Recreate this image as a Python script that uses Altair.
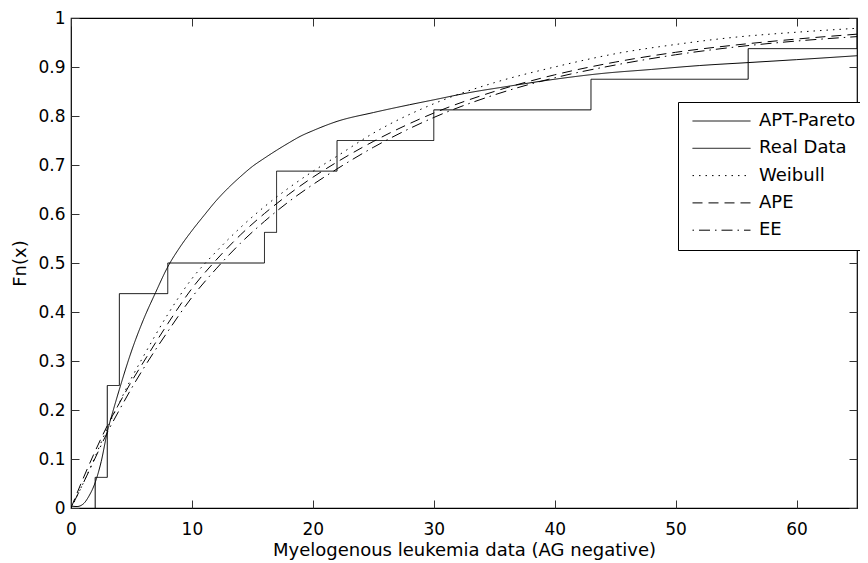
import altair as alt
import pandas as pd

# ---- data ----
series_order = ["APT-Pareto", "Real Data", "Weibull", "APE", "EE"]

apt_x = [0, 0.5, 1, 1.5, 2, 2.5, 3, 3.5, 4, 5, 6, 7, 8, 9, 10, 11, 12, 13, 14, 15, 16,
         17, 18, 19, 20, 22, 25, 28, 30, 33, 36, 40, 44, 48, 52, 56, 60, 65]
apt_y = [0.004, 0.003, 0.008, 0.025, 0.052, 0.095, 0.155, 0.2, 0.242, 0.32, 0.385,
         0.44, 0.492, 0.532, 0.566, 0.597, 0.627, 0.653, 0.676, 0.697, 0.714,
         0.73, 0.745, 0.759, 0.77, 0.789, 0.807, 0.823, 0.833, 0.848, 0.86,
         0.875, 0.887, 0.895, 0.903, 0.909, 0.915, 0.923]

fit_x = [0, 1, 2, 3, 4, 5, 6, 8, 10, 12, 14, 16, 18, 20, 22, 25, 30, 35, 40, 45, 50, 55, 60, 65]
weibull_y = [0, 0.05, 0.105, 0.163, 0.215, 0.265, 0.31, 0.395, 0.468, 0.523, 0.572, 0.615,
             0.653, 0.687, 0.718, 0.765, 0.825, 0.868, 0.9, 0.927, 0.946, 0.961, 0.971, 0.979]
ape_y = [0, 0.06, 0.116, 0.168, 0.214, 0.258, 0.298, 0.376, 0.448, 0.506, 0.557, 0.601,
         0.64, 0.675, 0.706, 0.748, 0.806, 0.85, 0.884, 0.91, 0.93, 0.945, 0.957, 0.967]
ee_y = [0, 0.05, 0.102, 0.154, 0.2, 0.244, 0.285, 0.36, 0.43, 0.488, 0.54, 0.585,
        0.625, 0.66, 0.692, 0.736, 0.797, 0.843, 0.878, 0.904, 0.925, 0.941, 0.953, 0.962]

ecdf_x = [2, 2, 3, 4, 8, 16, 17, 22, 30, 43, 56, 65]
ecdf_y = [0, 0.0625, 0.25, 0.4375, 0.5, 0.5625, 0.6875, 0.75, 0.8125, 0.875, 0.9375, 1.0]

x_ticks = [0, 10, 20, 30, 40, 50, 60]
y_ticks = [0, 0.1, 0.2, 0.3, 0.4, 0.5, 0.6, 0.7, 0.8, 0.9, 1.0]

# ---- tables ----
rows = []
for xv, yv in zip(apt_x, apt_y):
    rows.append({"x": xv, "y": yv, "series": "APT-Pareto"})
for name, ys in [("Weibull", weibull_y), ("APE", ape_y), ("EE", ee_y)]:
    for xv, yv in zip(fit_x, ys):
        rows.append({"x": xv, "y": yv, "series": name})
curves = pd.DataFrame(rows)
ecdf = pd.DataFrame({"x": ecdf_x, "y": ecdf_y, "series": "Real Data",
                     "i": list(range(len(ecdf_x)))})

FONT = "DejaVu Sans"
TICK = 8

xscale = alt.Scale(domain=[0, 65], nice=False, zero=False)
yscale = alt.Scale(domain=[0, 1], nice=False, zero=False)
dash_scale = alt.Scale(domain=series_order,
                       range=[[1, 0], [1, 0], [1.5, 5], [10, 6], [1.5, 5, 11, 5]])

legend = alt.Legend(
    title=None, orient="none", legendX=607, legendY=84,
    symbolType="stroke", symbolSize=3364, symbolStrokeWidth=1,
    symbolStrokeColor="black", symbolOffset=4,
    labelFont=FONT, labelFontSize=18, labelColor="black", labelOffset=8,
    strokeColor="black", fillColor="white", padding=10,
    rowPadding=9.3, clipHeight=18,
)

common_axis = dict(domain=False, grid=False, tickSize=TICK, offset=-TICK,
                   tickColor="#333333", tickWidth=1)

x_bottom = alt.Axis(values=x_ticks, format="d", labelFlush=False,
                    title="Myelogenous leukemia data (AG negative)",
                    labelFont=FONT, labelFontSize=17, labelColor="black",
                    labelPadding=13, titleFont=FONT, titleFontSize=18,
                    titleFontWeight="normal", titleColor="black", titlePadding=4,
                    **common_axis)
y_left = alt.Axis(values=y_ticks, format=".1~f", title="Fn(x)",
                  labelFont=FONT, labelFontSize=17, labelColor="black",
                  labelPadding=6, titleFont=FONT, titleFontSize=18,
                  titleFontWeight="normal", titleColor="black", titlePadding=8,
                  **common_axis)
x_top = alt.Axis(orient="top", values=x_ticks, labels=False, title=None, **common_axis)
y_right = alt.Axis(orient="right", values=y_ticks, labels=False, title=None, **common_axis)

curve_layer = alt.Chart(curves).mark_line(
    interpolate="monotone", strokeWidth=1, color="black", clip=True
).encode(
    x=alt.X("x:Q", scale=xscale, axis=x_bottom),
    y=alt.Y("y:Q", scale=yscale, axis=y_left),
    strokeDash=alt.StrokeDash("series:N", scale=dash_scale, legend=legend),
)

step_layer = alt.Chart(ecdf).mark_line(
    interpolate="step-after", strokeWidth=1, color="black", clip=True
).encode(
    x=alt.X("x:Q", scale=xscale, axis=x_top),
    y=alt.Y("y:Q", scale=yscale, axis=y_right),
    strokeDash=alt.StrokeDash("series:N", scale=dash_scale, legend=legend),
    order=alt.Order("i:Q"),
)

chart = alt.layer(curve_layer, step_layer).resolve_axis(
    x="independent", y="independent"
).properties(
    width=786, height=490,
    autosize=alt.AutoSizeParams(type="none"),
    padding={"left": 63, "top": 10, "right": 3, "bottom": 53},
    background="white",
).configure_view(stroke="black", strokeWidth=1.2)

chart.save("out.html", embed_options={"renderer": "svg", "actions": False})
